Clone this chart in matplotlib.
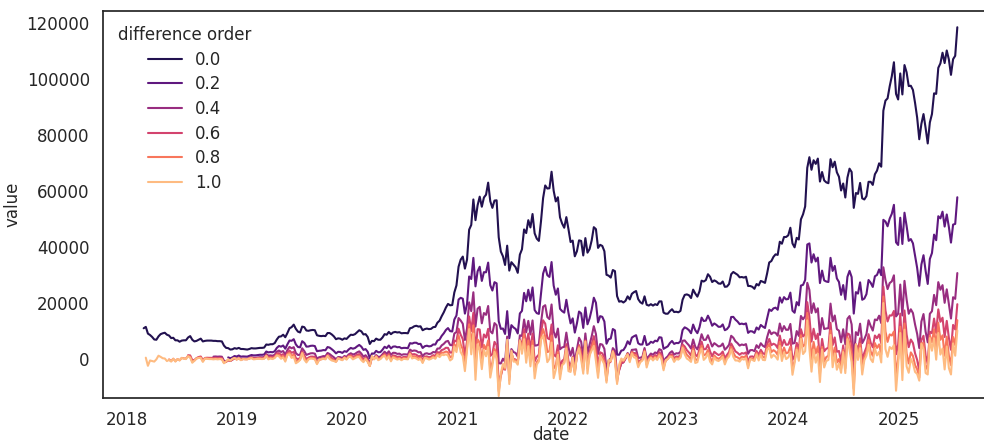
import numpy as np
import pandas as pd
import matplotlib
matplotlib.use("Agg")
import matplotlib.pyplot as plt
import seaborn as sns

# weekly BTC closes (USD), Mondays from 2018-02-26
btc_2018 = [11000, 11500, 9100, 8600, 7900, 7000, 6900, 8100, 8900, 9200,
            9400, 8700, 8400, 7500, 7600, 6700, 6700, 6200, 6600, 6700,
            6700, 7700, 8200, 6900, 6300, 6500, 6900, 7300, 6300, 6500,
            6600, 6600, 6600, 6500, 6500, 6400, 6400, 6300, 4800, 4000,
            3900, 3400, 3500, 3900, 3700]
btc_2019 = [4000, 3600, 3600, 3500, 3400, 3600, 3900, 3800, 3800, 3900,
            4000, 4000, 4100, 5200, 5100, 5300, 5300, 5700, 7000, 8000,
            8100, 8700, 7800, 9300, 11000, 11400, 12300, 10800, 9800, 9500,
            11600, 11400, 10200, 10100, 10300, 10400, 10300, 8500, 8300, 8200,
            8300, 8200, 9300, 9300, 8800, 8100, 7100, 7400, 7300, 6900,
            7400, 7200]
btc_2020 = [8000, 8700, 8600, 8900, 9600, 10300, 9900, 8800, 8900, 7900,
            5400, 6500, 6400, 7300, 6900, 6900, 7700, 8900, 8700, 9700,
            8900, 9500, 9700, 9500, 9600, 9200, 9300, 9300, 9200, 11000,
            11200, 11700, 11900, 11600, 11700, 10300, 10700, 10900, 10700, 10800,
            11400, 11500, 13000, 13700, 15300, 16700, 18400, 19700, 19200, 19300,
            23800, 26300]
btc_2021 = [33000, 35500, 36600, 32300, 35500, 46200, 47900, 57000, 49600, 54900,
            58000, 54400, 57700, 58700, 63000, 56400, 54000, 56600, 56700, 43500,
            38400, 36700, 33600, 40500, 31600, 34600, 33700, 32800, 30800, 37300,
            39200, 46300, 45000, 49600, 47000, 51800, 44900, 43000, 42200, 49200,
            57500, 62000, 60900, 61000, 66900, 60100, 56300, 57800, 50600, 48400,
            46900, 50700]
btc_2022 = [46400, 41800, 42300, 36700, 38500, 42400, 42200, 37000, 43200, 38000,
            39300, 42400, 47100, 46400, 39700, 40800, 40400, 38500, 30100, 29800,
            29100, 31800, 31400, 22500, 20500, 20700, 20200, 20800, 22400, 21300,
            23300, 23900, 24300, 21400, 20300, 19800, 22400, 19400, 19100, 19600,
            19100, 19600, 19300, 20600, 20600, 16600, 16200, 16200, 17100, 17800,
            16800, 16900]
btc_2023 = [16700, 17200, 21200, 22900, 23100, 22800, 21800, 24800, 23400, 22300,
            24200, 28000, 27700, 28200, 30300, 29400, 27500, 28100, 27700, 27000,
            26900, 27700, 25800, 25900, 26800, 30300, 31100, 30600, 30100, 29200,
            29300, 29100, 29400, 26100, 26100, 25800, 25100, 26800, 26300, 27900,
            27600, 27200, 30600, 34500, 35000, 36500, 37400, 37200, 41900, 41200,
            43600, 43600]
btc_2024 = [44200, 46900, 41300, 39900, 43300, 42700, 49900, 51700, 54500, 68300,
            72100, 67600, 71000, 69700, 71600, 63400, 66800, 63800, 63100, 62800,
            71400, 68500, 70500, 66700, 65100, 60200, 62700, 57700, 64800, 68000,
            66800, 54000, 59300, 59000, 62900, 57400, 57000, 58200, 63300, 63300,
            62200, 66000, 67300, 69900, 68700, 88700, 92300, 93100, 97400, 101000,
            106000, 94700, 92700]
btc_2025 = [102000, 94500, 105000, 102400, 97500, 97600, 96100, 91500, 86200, 78500,
            84000, 87500, 82500, 77000, 84500, 87500, 94900, 94700, 104000, 105600,
            109400, 105700, 110200, 107000, 101500, 107100, 108300, 118500]

orders = [0.0, 0.2, 0.4, 0.6, 0.8, 1.0]

close = np.array(btc_2018 + btc_2019 + btc_2020 + btc_2021 +
                 btc_2022 + btc_2023 + btc_2024 + btc_2025, dtype=float)
dates = pd.date_range("2018-02-26", periods=len(close), freq="7D")


def frac_weights(d, thresh=2e-3):
    """weights of (1 - L)^d, cut where they drop under thresh"""
    w = [1.0]
    k = 1
    while True:
        w_next = -w[-1] * (d - k + 1) / k
        if abs(w_next) < thresh:
            break
        w.append(w_next)
        k += 1
    return np.array(w)


def frac_diff(x, d):
    w = frac_weights(d)
    n = len(w)
    out = np.full(len(x), np.nan)
    for t in range(n - 1, len(x)):
        out[t] = np.dot(w, x[t - n + 1:t + 1][::-1])
    return out


frames = []
for d in orders:
    frames.append(pd.DataFrame({"date": dates,
                                "value": frac_diff(close, d),
                                "difference order": f"{d:.1f}"}))
df = pd.concat(frames).dropna()

sns.set_theme(style="white", rc={"font.size": 12, "axes.labelsize": 12,
                                 "xtick.labelsize": 12, "ytick.labelsize": 12,
                                 "legend.fontsize": 12,
                                 "legend.title_fontsize": 12})

fig = plt.figure(figsize=(9.84, 4.43), dpi=100)
ax = fig.add_axes([103 / 984, 45 / 443, 895 / 984, 387 / 443])
sns.lineplot(data=df, x="date", y="value", hue="difference order",
             palette=sns.color_palette("magma", len(orders)), ax=ax)
ax.set_ylim(-13900, 124300)
ax.xaxis.labelpad = -2
sns.move_legend(ax, "upper left", frameon=False, title="difference order",
                labelspacing=0.4)

fig.savefig("out.png", dpi=100)
